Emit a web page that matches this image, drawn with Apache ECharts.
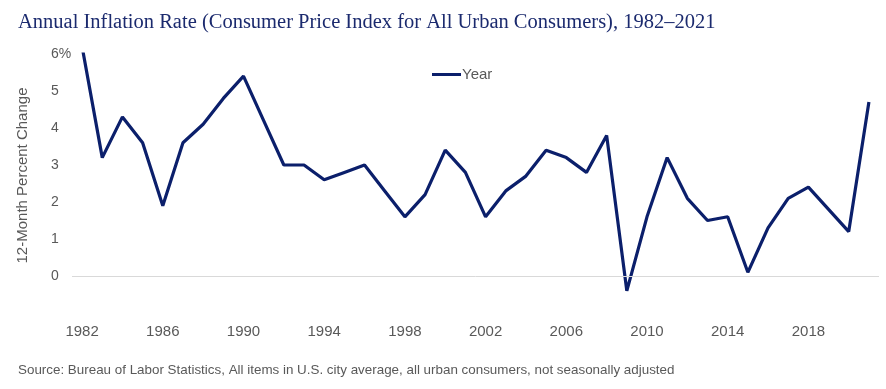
<!DOCTYPE html>
<html><head><meta charset="utf-8">
<script src="https://cdn.jsdelivr.net/npm/echarts@6/dist/echarts.min.js"></script>
<style>html,body{margin:0;padding:0;background:#fff}#c{width:886px;height:389px}</style>
</head><body><div id="c"></div>
<script>
const titleText = 'Annual Inflation Rate (Consumer Price Index for All Urban Consumers), 1982\u20132021';
const sourceText = 'Source: Bureau of Labor Statistics, All items in U.S. city average, all urban consumers, not seasonally adjusted';
const years = [1982,1983,1984,1985,1986,1987,1988,1989,1990,1991,1992,1993,1994,1995,1996,1997,1998,1999,2000,2001,2002,2003,2004,2005,2006,2007,2008,2009,2010,2011,2012,2013,2014,2015,2016,2017,2018,2019,2020,2021];
const inflation = [6.2,3.2,4.3,3.6,1.9,3.6,4.1,4.8,5.4,4.2,3.0,3.0,2.6,2.8,3.0,2.3,1.6,2.2,3.4,2.8,1.6,2.3,2.7,3.4,3.2,2.8,3.8,-0.4,1.6,3.2,2.1,1.5,1.6,0.1,1.3,2.1,2.4,1.8,1.2,4.7];
const yTicks = [0,1,2,3,4,5,6];
const seriesName = 'Year';
const yAxisName = '12-Month Percent Change';

const chart = echarts.init(document.getElementById('c'), null, {renderer:'canvas'});
chart.setOption({
  animation:false,
  backgroundColor:'#fff',
  title:[
    {text:titleText, left:13, top:7, textStyle:{fontFamily:'Liberation Serif', fontWeight:'normal', fontSize:20.5, color:'#1b2a6e'}},
    {text:sourceText, left:13, top:359, textStyle:{fontFamily:'Liberation Sans', fontWeight:'normal', fontSize:13.4, color:'#595959'}}
  ],
  legend:{data:[seriesName], left:427, top:62, itemWidth:29, itemHeight:3, itemGap:4, icon:'rect',
    textStyle:{fontFamily:'Liberation Sans', fontSize:15, color:'#595959', padding:[0,0,0,-4]}},
  grid:{left:72, right:7, top:54, bottom:76, containLabel:false, outerBoundsMode:'none'},
  xAxis:{type:'category', data:years.map(String), boundaryGap:true,
    axisLine:{show:false}, axisTick:{show:false},
    axisLabel:{interval:3, margin:11, fontFamily:'Liberation Sans', fontSize:15, color:'#595959'}},
  yAxis:{type:'value', min:-1, max:6, interval:1,
    name:yAxisName, nameLocation:'middle', nameGap:42, nameRotate:90,
    nameTextStyle:{fontFamily:'Liberation Sans', fontSize:15, color:'#595959', padding:[0,0,0,16]},
    axisLine:{show:false}, axisTick:{show:false}, splitLine:{show:false},
    axisLabel:{margin:21, align:'left', fontFamily:'Liberation Sans', fontSize:14, color:'#595959',
      formatter:function(v){ if(yTicks.indexOf(v)<0) return ''; return v===6 ? '6%' : String(v); }}},
  series:[{name:seriesName, type:'line', data:inflation, clip:true, symbol:'none', smooth:false,
    lineStyle:{color:'#0b1f6b', width:3.2}, itemStyle:{color:'#0b1f6b'},
    markLine:{silent:true, symbol:'none', label:{show:false},
      lineStyle:{color:'#d9d9d9', width:1, type:'solid'}, data:[{yAxis:0}]}}]
});
</script></body></html>
